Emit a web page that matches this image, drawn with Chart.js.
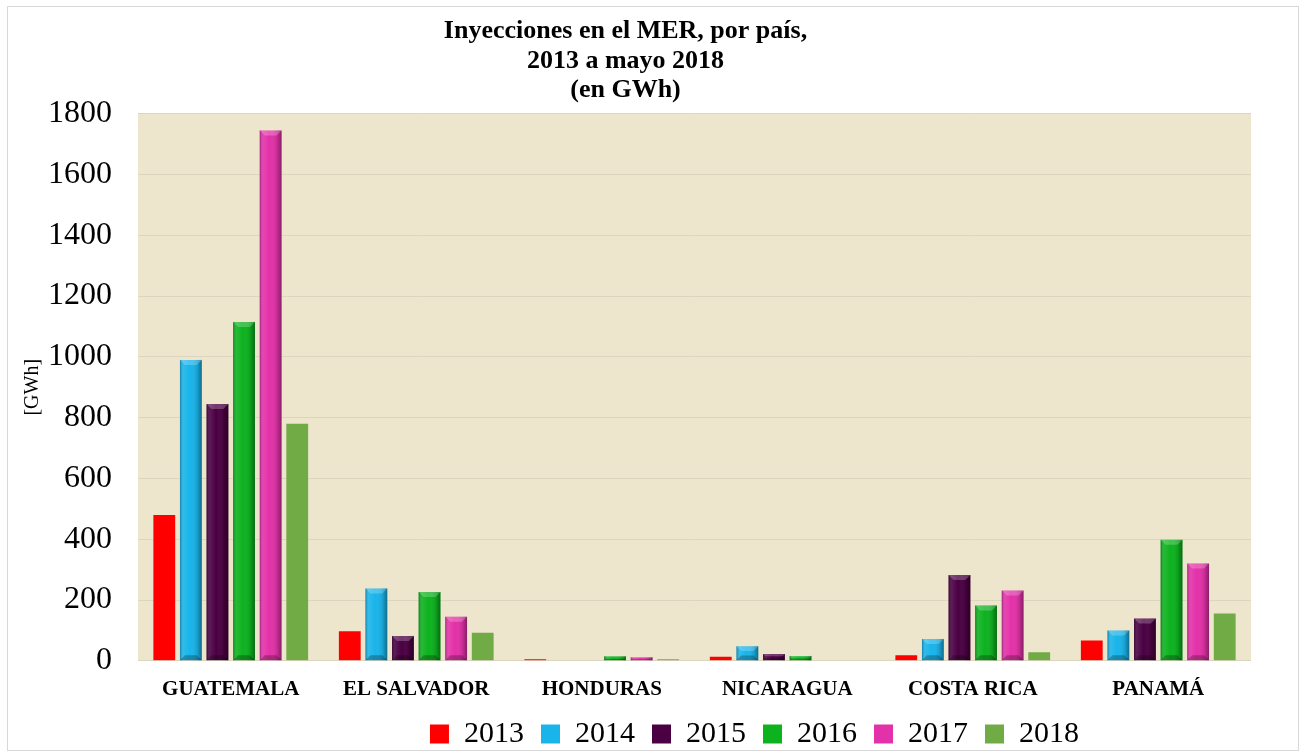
<!DOCTYPE html>
<html>
<head>
<meta charset="utf-8">
<script src="https://cdn.jsdelivr.net/npm/chart.js@4.4.1/dist/chart.umd.min.js"></script>
<style>
html,body{margin:0;padding:0;background:#fff;}
#wrap{position:absolute;left:0;top:0;width:1307px;height:755px;}
#frame{position:absolute;left:7px;top:6px;width:1292px;height:745px;border:1px solid #d8d8d8;box-sizing:border-box;pointer-events:none;}
</style>
</head>
<body>
<div id="wrap"><canvas id="c" width="1307" height="755"></canvas><div id="frame"></div></div>
<script>
const categories = ["GUATEMALA", "EL SALVADOR", "HONDURAS", "NICARAGUA", "COSTA RICA", "PANAMÁ"];
const seriesNames = ["2013", "2014", "2015", "2016", "2017", "2018"];
const v2013 = [480, 97, 5, 13, 18, 67];
const v2014 = [990, 238, 0, 48, 72, 100];
const v2015 = [845, 82, 0, 22, 282, 139];
const v2016 = [1115, 226, 15, 16, 182, 398];
const v2017 = [1745, 145, 12, 0, 231, 320];
const v2018 = [780, 92, 5, 0, 28, 156];
const yTicks = [0, 200, 400, 600, 800, 1000, 1200, 1400, 1600, 1800];
const titleLines = ["Inyecciones en el MER, por país,", "2013 a mayo 2018", "(en GWh)"];
const yTitle = "[GWh]";

const colors = ["#ff0000", "#19b4ea", "#4a0042", "#0db21f", "#e331a9", "#70ab45"];
const beveled = [false, true, true, true, true, false];
const values = [v2013, v2014, v2015, v2016, v2017, v2018];

const bgPlugin = {
  id: 'plotbg',
  beforeDraw(chart){
    const {ctx, chartArea:a} = chart;
    ctx.save();
    ctx.fillStyle = '#ede5cc';
    ctx.fillRect(a.left, a.top, a.right - a.left, a.bottom - a.top);
    ctx.restore();
  }
};

// move the legend box to sit where the reference places it
const legendShift = {
  id: 'legendShift',
  afterLayout(chart){
    const lg = chart.legend;
    if (!lg) return;
    lg.left += 135; lg.right += 135;
    lg.top += 4; lg.bottom += 4;
  }
};

// shading overlay on bars, read from the library's own bar elements
const bevelPlugin = {
  id: 'bevel',
  afterDatasetsDraw(chart){
    const ctx = chart.ctx;
    chart.data.datasets.forEach((ds, i) => {
      if (!beveled[i]) return;
      const meta = chart.getDatasetMeta(i);
      meta.data.forEach(bar => {
        const p = bar.getProps(['x','y','base','width'], true);
        const h = p.base - p.y;
        if (h <= 1) return;
        const l = p.x - p.width/2, r = p.x + p.width/2;
        ctx.save();
        const g = ctx.createLinearGradient(l, 0, r, 0);
        g.addColorStop(0, 'rgba(0,0,0,0.30)');
        g.addColorStop(0.15, 'rgba(255,255,255,0.10)');
        g.addColorStop(0.45, 'rgba(255,255,255,0.0)');
        g.addColorStop(0.8, 'rgba(0,0,0,0.12)');
        g.addColorStop(1, 'rgba(0,0,0,0.40)');
        ctx.fillStyle = g;
        ctx.fillRect(l, p.y, p.width, h);
        const b = Math.min(5, h/3);
        ctx.fillStyle = 'rgba(255,255,255,0.22)';
        ctx.beginPath();
        ctx.moveTo(l, p.y); ctx.lineTo(r, p.y); ctx.lineTo(r - b, p.y + b); ctx.lineTo(l + b, p.y + b); ctx.closePath();
        ctx.fill();
        ctx.fillStyle = 'rgba(0,0,0,0.25)';
        ctx.beginPath();
        ctx.moveTo(l, p.base); ctx.lineTo(r, p.base); ctx.lineTo(r - b, p.base - b); ctx.lineTo(l + b, p.base - b); ctx.closePath();
        ctx.fill();
        ctx.restore();
      });
    });
  }
};

new Chart(document.getElementById('c'), {
  type: 'bar',
  data: {
    labels: categories,
    datasets: seriesNames.map((n, i) => ({
      label: n,
      data: values[i],
      backgroundColor: colors[i],
      borderWidth: 0,
      categoryPercentage: 0.86,
      barPercentage: 0.82
    }))
  },
  plugins: [bgPlugin, bevelPlugin, legendShift],
  options: {
    responsive: false,
    animation: false,
    layout: { padding: { left: 0, right: 56, top: 10, bottom: 0 } },
    plugins: {
      title: {
        display: true,
        text: titleLines,
        color: '#000',
        font: { family: 'Liberation Serif', size: 26, weight: 'bold', lineHeight: 1.15 },
        padding: { top: 6, bottom: 8 }
      },
      legend: {
        position: 'bottom',
        labels: {
          color: '#000',
          font: { family: 'Liberation Serif', size: 30 },
          boxWidth: 19, boxHeight: 19,
          padding: 5,
          generateLabels(chart){
            return seriesNames.map((n, i) => ({
              text: n + '\u2009\u2009', fillStyle: colors[i], strokeStyle: colors[i], lineWidth: 0,
              datasetIndex: i, hidden: false
            }));
          }
        }
      },
      tooltip: { enabled: false }
    },
    scales: {
      x: {
        grid: { display: false },
        border: { display: false },
        ticks: { color: '#000', font: { family: 'Liberation Serif', size: 21, weight: 'bold' }, padding: 8 }
      },
      y: {
        min: 0, max: 1800,
        afterBuildTicks(axis){ axis.ticks = yTicks.map(v => ({ value: v })); },
        afterFit(axis){ axis.width = 138; },
        grid: { color: '#dcd6c0', drawTicks: false },
        border: { display: false },
        ticks: { color: '#000', font: { family: 'Liberation Serif', size: 32 }, padding: 26,
                 callback: v => String(v) },
        title: { display: true, text: yTitle, color: '#000', font: { family: 'Liberation Serif', size: 20 }, padding: { top: 21, bottom: 5 } }
      }
    }
  }
});
</script>
</body>
</html>
